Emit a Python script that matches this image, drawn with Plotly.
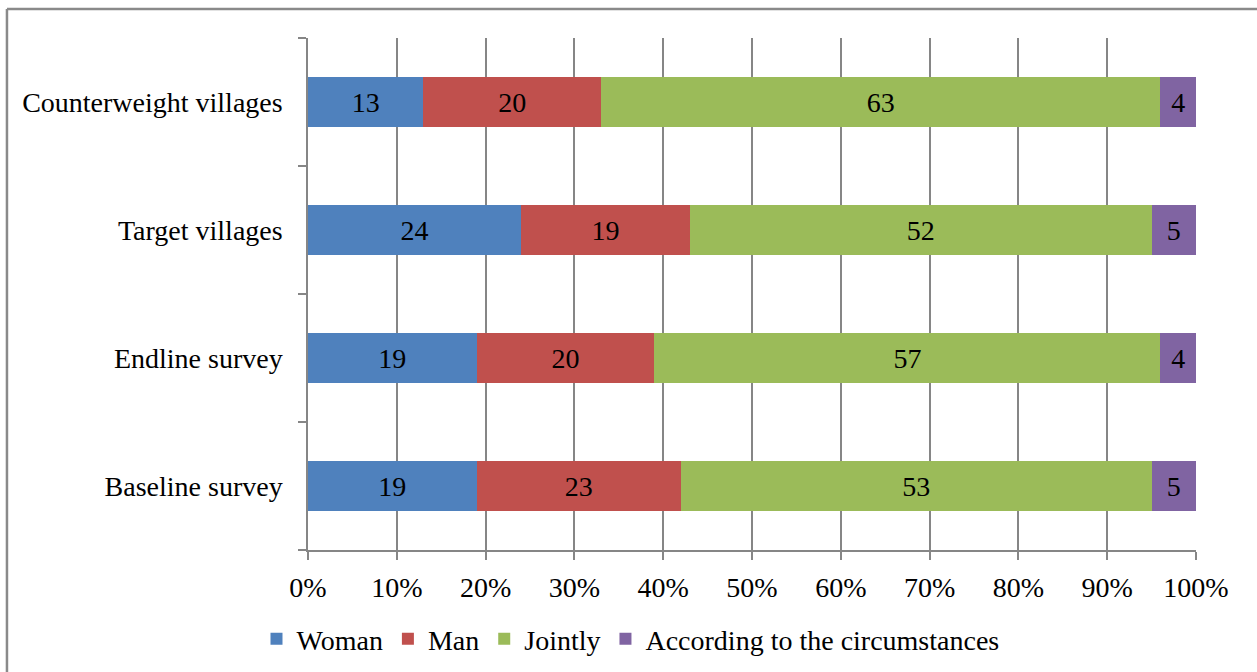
import plotly.graph_objects as go

# Survey groups (bottom to top) and response shares in percent
categories = ["Baseline survey", "Endline survey", "Target villages", "Counterweight villages"]
woman = [19, 19, 24, 13]
man = [23, 20, 19, 20]
jointly = [53, 57, 52, 63]
circumstances = [5, 4, 5, 4]

series_names = ["Woman", "Man", "Jointly", "According to the circumstances"]
series_values = [woman, man, jointly, circumstances]
series_colors = ["#4F81BD", "#C0504D", "#9BBB59", "#8064A2"]

x_ticks = list(range(0, 101, 10))
x_tick_text = [f"{v}%" for v in x_ticks]

FONT = "Liberation Serif"
FS = 28
GRID = "#868686"

fig = go.Figure()
for name, vals, color in zip(series_names, series_values, series_colors):
    fig.add_trace(go.Bar(
        y=categories,
        x=vals,
        name=name,
        orientation="h",
        marker=dict(color=color, line=dict(width=0)),
        text=[str(v) for v in vals],
        textposition="inside",
        insidetextanchor="middle",
        textangle=0,
        textfont=dict(family=FONT, size=FS, color="black"),
        constraintext="none",
        hoverinfo="x+y+name",
    ))

# outer frame around the chart area
frame = dict(type="line", xref="paper", yref="paper",
             line=dict(color="#8a8a8a", width=2.5))
fig.add_shape(**frame, x0=-0.339, x1=1.2, y0=1.0566, y1=1.0566)
fig.add_shape(**frame, x0=-0.339, x1=-0.339, y0=1.0566, y1=-0.3)

fig.update_layout(
    width=1257,
    height=672,
    margin=dict(l=308, r=61, t=38, b=122, autoexpand=False),
    paper_bgcolor="white",
    plot_bgcolor="white",
    barmode="stack",
    bargap=0.61,
    font=dict(family=FONT, size=FS, color="black"),
    uniformtext=dict(mode=False),
    legend=dict(
        orientation="h",
        x=-0.058, xanchor="left",
        y=-0.174, yanchor="middle",
        font=dict(family=FONT, size=FS, color="black"),
        traceorder="normal",
        itemwidth=30,
        bgcolor="rgba(0,0,0,0)",
    ),
    xaxis=dict(
        range=[0, 100],
        tickvals=x_ticks,
        ticktext=x_tick_text,
        showgrid=True,
        gridcolor=GRID,
        gridwidth=1.5,
        zeroline=False,
        showline=True,
        linecolor=GRID,
        linewidth=1.5,
        ticks="outside",
        ticklen=8,
        tickcolor=GRID,
        tickwidth=1.5,
        ticklabelstandoff=4,
        tickfont=dict(family=FONT, size=FS, color="black"),
        fixedrange=True,
    ),
    yaxis=dict(
        type="category",
        categoryorder="array",
        categoryarray=categories,
        range=[-0.5, 3.5],
        showgrid=False,
        zeroline=False,
        showline=True,
        linecolor=GRID,
        linewidth=1.5,
        ticks="outside",
        tickson="boundaries",
        ticklen=8,
        tickcolor=GRID,
        tickwidth=1.5,
        ticklabelstandoff=18,
        tickfont=dict(family=FONT, size=FS, color="black"),
        fixedrange=True,
    ),
)

fig.write_html("out.html")
